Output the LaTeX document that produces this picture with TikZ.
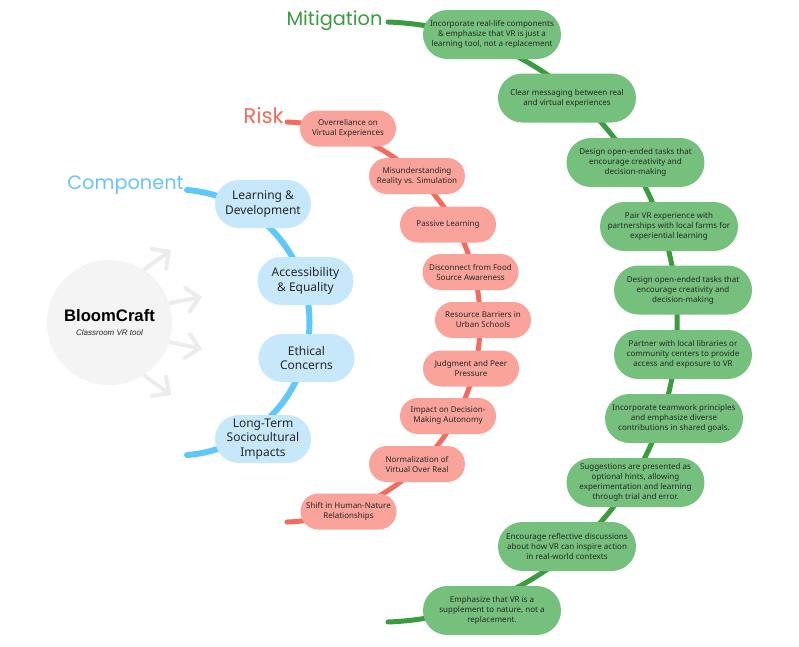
\documentclass[tikz,border=0pt]{standalone}
\usepackage{fontspec}
\setmainfont{Noto Sans}
\newfontfamily\handfont{Poppins}
\newfontfamily\titlefont{Liberation Sans}
\usetikzlibrary{arrows.meta}

\definecolor{bline}{HTML}{5EC8FB}
\definecolor{bfill}{HTML}{C6E8FA}
\definecolor{blab}{HTML}{6AC5F6}
\definecolor{rline}{HTML}{F36B5C}
\definecolor{rfill}{HTML}{F9A39A}
\definecolor{rlab}{HTML}{F36B5C}
\definecolor{gline}{HTML}{3A9B3F}
\definecolor{gfill}{HTML}{76C07D}
\definecolor{glab}{HTML}{3A9B3F}
\definecolor{txt}{HTML}{262626}
\definecolor{circfill}{HTML}{F4F4F4}
\definecolor{arrowc}{HTML}{ECECEC}

\begin{document}
\begin{tikzpicture}[x=0.75pt,y=0.75pt,
  comp/.style={fill=bfill, rounded corners=17.9pt, minimum width=72pt, minimum height=36pt,
    align=center, font=\fontsize{9}{10.9}\selectfont, text=txt, inner sep=0pt},
  risk/.style={fill=rfill, rounded corners=13.4pt, minimum width=72pt, minimum height=27pt,
    align=center, font=\fontsize{6}{7.5}\selectfont, text=txt, inner sep=0pt},
  miti/.style={fill=gfill, rounded corners=18.3pt, minimum width=103.5pt, minimum height=36.75pt,
    align=center, font=\fontsize{6}{7.5}\selectfont, text=txt, inner sep=0pt},
  branch/.style={line width=#1, line cap=round},
  hand/.style={font=\handfont\fontsize{14.5}{15}\selectfont, inner sep=0pt},
  garrow/.style={draw=arrowc, line width=3pt, -{Straight Barb[length=9pt, width=18pt, line cap=round]}}
]
\useasboundingbox (0,0) rectangle (799,-646);
\fill[white] (0,0) rectangle (799,-646);

% branch lines (circular arcs)
\coordinate (bstart) at (187,-190);
\coordinate (rstart) at (287,-122);
\coordinate (gstart) at (388,-22);
\draw[branch=4.5pt, draw=bline] (bstart) arc[start angle=85.5, end angle=-85.5, radius=99.7pt] coordinate (bend);
\draw[branch=3.75pt, draw=rline] (rstart) arc[start angle=88, end angle=-88, radius=150.1pt] coordinate (rend);
\draw[branch=3.75pt, draw=gline] (gstart) arc[start angle=87.9, end angle=-87.9, radius=225.15pt] coordinate (gend);

% central topic
\node[circle, fill=circfill, minimum size=93.75pt, inner sep=0pt, align=center, text=black] (bc) at (109.5,-322.5)
  {{\titlefont\fontsize{12.5}{14}\selectfont\bfseries BloomCraft}\\[-2pt]{\titlefont\fontsize{6}{7}\selectfont\itshape\color{txt}Classroom VR tool}};
\coordinate (a1) at (171,-250);
\coordinate (a2) at (202,-297);
\coordinate (a3) at (202,-349);
\coordinate (a4) at (171,-395);
\draw[garrow] (bc.57) -- (a1);
\draw[garrow] (bc.18) -- (a2);
\draw[garrow] (bc.-18) -- (a3);
\draw[garrow] (bc.-57) -- (a4);

% labels
\node[hand, text=blab] (complab) at (125.5,-185) {Component};
\node[hand, text=rlab, font=\handfont\fontsize{16}{16}\selectfont] (risklab) at (263.5,-115) {Risk};
\node[hand, text=glab] (mitilab) at (334.5,-20.5) {Mitigation};

% components
\node[comp] (ld)  at (263,-204)   {Learning \&\\Development};
\node[comp] (acc) at (305.5,-281) {Accessibility\\\& Equality};
\node[comp] (eth) at (306.5,-358) {Ethical\\Concerns};
\node[comp] (lt)  at (263,-439)   {Long-Term\\Sociocultural\\Impacts};

% risks
\node[risk] (r1) at (348,-128.5) {Overreliance on\\Virtual Experiences};
\node[risk] (r2) at (417,-176)   {Misunderstanding\\Reality vs. Simulation};
\node[risk] (r3) at (448,-224.5) {Passive Learning};
\node[risk] (r4) at (470.5,-272) {Disconnect from Food\\Source Awareness};
\node[risk] (r5) at (483,-320)   {Resource Barriers in\\Urban Schools};
\node[risk] (r6) at (471,-368.5) {Judgment and Peer\\Pressure};
\node[risk] (r7) at (448,-416)   {Impact on Decision-\\Making Autonomy};
\node[risk] (r8) at (417,-464)   {Normalization of\\Virtual Over Real};
\node[risk] (r9) at (348.5,-511.5) {Shift in Human-Nature\\Relationships};

% mitigations
\node[miti] (m1)  at (492,-34.5)  {Incorporate real-life components\\\& emphasize that VR is just a\\learning tool, not a replacement};
\node[miti] (m2)  at (567,-98)    {Clear messaging between real\\and virtual experiences};
\node[miti] (m3)  at (635.5,-162.5) {Design open-ended tasks that\\encourage creativity and\\decision-making};
\node[miti] (m4)  at (669,-226.5) {Pair VR experience with\\partnerships with local farms for\\experiential learning};
\node[miti] (m5)  at (683,-290)   {Design open-ended tasks that\\encourage creativity and\\decision-making};
\node[miti] (m6)  at (683,-354.5) {Partner with local libraries or\\community centers to provide\\access and exposure to VR};
\node[miti] (m7)  at (674,-418.5) {Incorporate teamwork principles\\and emphasize diverse\\contributions in shared goals.};
\node[miti] (m8)  at (635.5,-482.5) {Suggestions are presented as\\optional hints, allowing\\experimentation and learning\\through trial and error.};
\node[miti] (m9)  at (567,-546.5) {Encourage reflective discussions\\about how VR can inspire action\\in real-world contexts};
\node[miti] (m10) at (492,-610.5) {Emphasize that VR is a\\supplement to nature, not a\\replacement.};
\end{tikzpicture}
\end{document}
